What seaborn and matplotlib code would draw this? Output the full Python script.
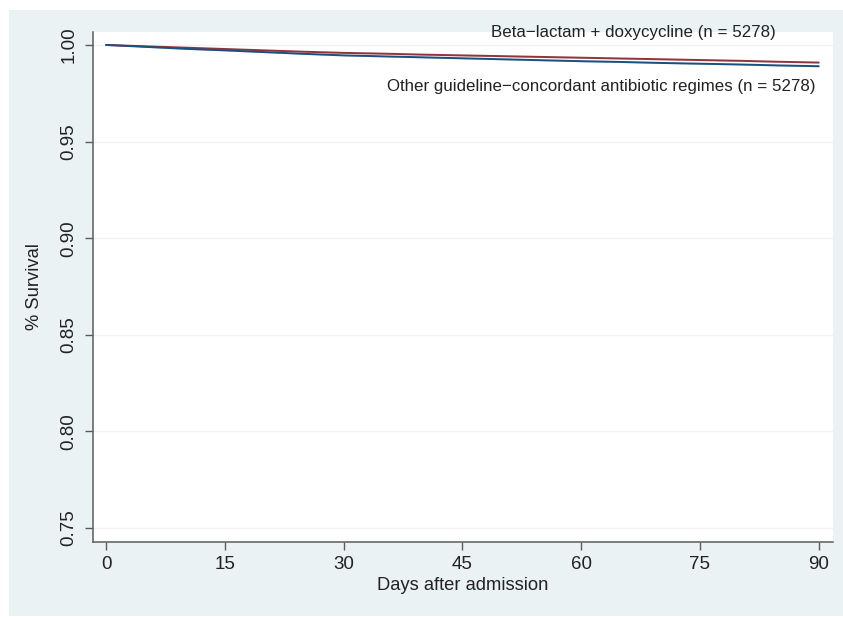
import numpy as np
import pandas as pd
import seaborn as sns
import matplotlib
matplotlib.use("Agg")
from matplotlib import pyplot as plt
from matplotlib.patches import Rectangle

days = [0, 5, 10, 15, 20, 25, 30, 35, 40, 45, 50, 55, 60, 65, 70, 75, 80, 85, 90]
surv_doxy = [1.0, 0.9993, 0.9986, 0.9979, 0.9972, 0.9965, 0.9959, 0.9955, 0.9950, 0.9946,
             0.9942, 0.9938, 0.9934, 0.9930, 0.9926, 0.9922, 0.9918, 0.9913, 0.9909]
surv_other = [1.0, 0.9990, 0.9980, 0.9972, 0.9963, 0.9954, 0.9946, 0.9941, 0.9936, 0.9931,
              0.9926, 0.9921, 0.9916, 0.9912, 0.9907, 0.9903, 0.9899, 0.9894, 0.9890]
ci_half = [0.0, 0.0002, 0.0002, 0.0003, 0.0003, 0.0003, 0.0003, 0.0003, 0.0003, 0.0003,
           0.0003, 0.0003, 0.0003, 0.0003, 0.0003, 0.0003, 0.0003, 0.0003, 0.0003]
groups = ["Beta\u2212lactam + doxycycline (n = 5278)",
          "Other guideline\u2212concordant antibiotic regimes (n = 5278)"]
colors = ["#90353b", "#1a4f7f"]
band_colors = ["#e3b7bb", "#a9bfd3"]

df = pd.DataFrame({
    "day": days * 2,
    "surv": surv_doxy + surv_other,
    "group": [groups[0]] * len(days) + [groups[1]] * len(days),
})

sns.set_style("white")
plt.rcParams["font.family"] = ["Liberation Sans", "DejaVu Sans"]

fig = plt.figure(figsize=(8.43, 6.17), dpi=100, facecolor="white")
fig.patches.append(Rectangle((9 / 843, 1 / 617), 834 / 843, 606 / 617,
                             transform=fig.transFigure, facecolor="#eaf2f3",
                             edgecolor="none", zorder=-1))
ax = fig.add_axes([93 / 843, 75 / 617, 740 / 843, 510 / 617])
ax.set_facecolor("white")

for i, s in enumerate([surv_doxy, surv_other]):
    s = np.array(s)
    ci = np.array(ci_half)
    ax.fill_between(days, s - ci, s + ci, color=band_colors[i],
                    alpha=0.7, linewidth=0)

sns.lineplot(data=df, x="day", y="surv", hue="group", palette=colors,
             linewidth=1.4, legend=False, ax=ax)

ax.set_xlim(-1.65, 91.8)
ax.set_ylim(0.7428, 1.0067)
ax.set_xticks([0, 15, 30, 45, 60, 75, 90])
ax.set_yticks([0.75, 0.80, 0.85, 0.90, 0.95, 1.00])
ax.set_yticklabels(["0.75", "0.80", "0.85", "0.90", "0.95", "1.00"], rotation=90, va="center")
ax.yaxis.grid(True, color="#f2f2f2", linewidth=1)
ax.xaxis.grid(False)

for side in ["top", "right"]:
    ax.spines[side].set_visible(False)
for side in ["left", "bottom"]:
    ax.spines[side].set_color("#5c5c5c")
    ax.spines[side].set_linewidth(1.1)

ax.tick_params(axis="both", direction="out", length=6, width=1, color="#5c5c5c",
               labelsize=13.5, labelcolor="#222222", left=True, bottom=True)
ax.tick_params(axis="y", pad=5)
ax.tick_params(axis="x", pad=4)

ax.set_xlabel("Days after admission", fontsize=13.2, color="#222222", labelpad=3)
ax.set_ylabel("% Survival", fontsize=13.2, color="#222222", labelpad=13)

ax.text(84.6, 1.0064, groups[0], ha="right", va="center", fontsize=12.2,
        color="#222222", clip_on=False)
ax.text(89.6, 0.9784, groups[1], ha="right", va="center", fontsize=12.2,
        color="#222222", clip_on=False)

plt.savefig("out.png", dpi=100, facecolor="white")
